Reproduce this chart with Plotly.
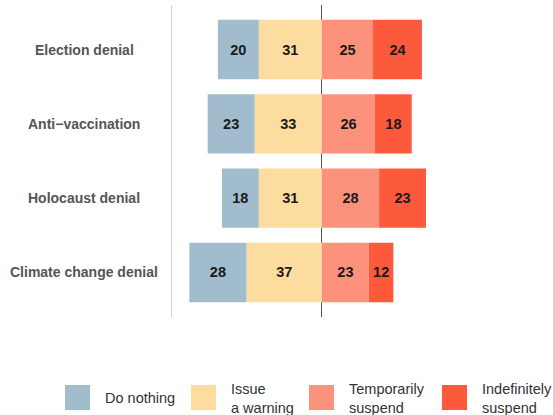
import plotly.graph_objects as go

# Survey: what should platforms do with accounts posting each kind of content (%)
topics = ["Election denial", "Anti\u2212vaccination", "Holocaust denial", "Climate change denial"]
do_nothing = [20, 23, 18, 28]
issue_warning = [31, 33, 31, 37]
temp_suspend = [25, 26, 28, 23]
indef_suspend = [24, 18, 23, 12]

responses = ["Do nothing", "Issue<br>a warning", "Temporarily<br>suspend", "Indefinitely<br>suspend"]
colors = ["#A0BCCD", "#FDDCA0", "#FC917C", "#FC593D"]

W, H = 553, 415
ML, MR, MT, MB = 172, 27, 5, 98
PW, PH = W - ML - MR, H - MT - MB


def px_x(x):
    return (x - ML) / PW


def px_y(y):
    return (H - MB - y) / PH


fig = go.Figure()

# left side stacks outward from zero: warning next to the centre, then "do nothing"
# right side: temporary suspension next to the centre, then indefinite suspension
series = [
    (issue_warning, -1, colors[1]),
    (do_nothing, -1, colors[0]),
    (temp_suspend, 1, colors[2]),
    (indef_suspend, 1, colors[3]),
]
for vals, sign, col in series:
    fig.add_trace(go.Bar(
        y=topics,
        x=[sign * v for v in vals],
        orientation="h",
        width=0.8,
        marker=dict(color=col, line=dict(width=0)),
        text=[str(v) for v in vals],
        textposition="inside",
        insidetextanchor="middle",
        textangle=0,
        textfont=dict(family="Liberation Sans, Arial, sans-serif", size=14.5,
                      color="#1a1a1a", weight="bold"),
        hoverinfo="skip",
        showlegend=False,
    ))

# category labels, centred in the left margin
for t in topics:
    fig.add_annotation(
        x=px_x(84), xref="paper", y=t, yref="y",
        text=t, showarrow=False, xanchor="center", yanchor="middle",
        font=dict(family="Liberation Sans, Arial, sans-serif", size=14,
                  color="#555555", weight="bold"),
    )

# legend drawn as swatches with labels below the chart
sw_left = [65, 191, 309, 442]
for name, col, x0 in zip(responses, colors, sw_left):
    fig.add_shape(type="rect", xref="paper", yref="paper",
                  x0=px_x(x0), x1=px_x(x0 + 25), y0=px_y(385), y1=px_y(410),
                  fillcolor=col, line=dict(width=0), layer="above")
    fig.add_annotation(
        x=px_x(x0 + 38), xref="paper", y=px_y(398), yref="paper",
        text=name, showarrow=False, xanchor="left", yanchor="middle",
        align="left",
        font=dict(family="Liberation Sans, Arial, sans-serif", size=14.5,
                  color="#333333"),
    )

fig.update_layout(
    width=W, height=H,
    margin=dict(l=ML, r=MR, t=MT, b=MB, pad=0),
    barmode="relative",
    bargap=0.2,
    paper_bgcolor="white",
    plot_bgcolor="white",
    showlegend=False,
    xaxis=dict(range=[-73.5, 100], showgrid=False, showticklabels=False,
               zeroline=True, zerolinecolor="#555555", zerolinewidth=1,
               showline=False, ticks=""),
    yaxis=dict(categoryorder="array", categoryarray=topics,
               range=[3.6, -0.6], showgrid=False, showticklabels=False,
               zeroline=False, showline=True, linecolor="#d0d0d0",
               linewidth=1, ticks=""),
)

fig.write_html("out.html")
